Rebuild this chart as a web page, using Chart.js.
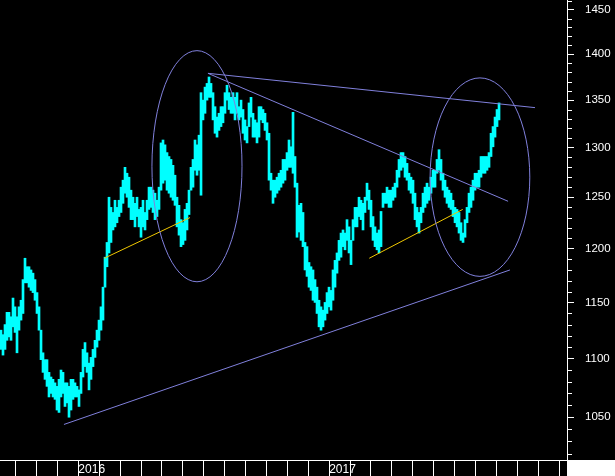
<!DOCTYPE html>
<html>
<head>
<meta charset="utf-8">
<script src="https://cdn.jsdelivr.net/npm/chart.js@4.4.0/dist/chart.umd.min.js"></script>
<style>
  html, body { margin: 0; padding: 0; background: #000; }
  #wrap { width: 615px; height: 476px; }
</style>
</head>
<body>
<div id="wrap"><canvas id="goldChart" width="615" height="476"></canvas></div>
<script>
// x axis unit = months since Jan 2016 (0 = Jan 2016, 12 = Jan 2017)
const monthTicks = [-3, -2, -1, 0, 1, 2, 3, 4, 5, 6, 7, 8, 9, 10, 11, 12, 13, 14, 15, 16, 17, 18, 19, 20, 21, 22, 23];
const yearTicks = [0, 12];
const yearLabels = ['2016', '2017'];
const priceTicks = [1050, 1100, 1150, 1200, 1250, 1300, 1350, 1400, 1450];

// bars: one every ~2 trading days, starting early Sep 2015
const firstBar = -3.702;
const barStep = 0.0957;

const highs = [
  1125, 1121, 1130, 1141, 1141, 1137, 1154, 1146, 1137, 1146,
  1152, 1171, 1191, 1183, 1183, 1180, 1177, 1171, 1159, 1146,
  1125, 1105, 1099, 1099, 1088, 1084, 1082, 1079, 1076, 1082,
  1090, 1088, 1079, 1079, 1076, 1082, 1082, 1079, 1076, 1073,
  1088, 1108, 1114, 1105, 1096, 1101, 1108, 1116, 1125, 1134,
  1146, 1164, 1192, 1206, 1250, 1240, 1235, 1247, 1240, 1247,
  1260, 1267, 1280, 1274, 1270, 1257, 1250, 1244, 1250, 1238,
  1240, 1247, 1235, 1247, 1260, 1260, 1257, 1254, 1247, 1260,
  1305, 1308, 1303, 1295, 1291, 1288, 1282, 1272, 1250, 1242,
  1228, 1225, 1238, 1244, 1257, 1280, 1288, 1308, 1303, 1313,
  1358, 1350, 1364, 1368, 1375, 1368, 1358, 1343, 1332, 1336,
  1343, 1343, 1358, 1366, 1358, 1353, 1358, 1353, 1358, 1343,
  1350, 1340, 1329, 1322, 1347, 1353, 1336, 1329, 1326, 1343,
  1343, 1340, 1336, 1326, 1315, 1274, 1267, 1267, 1270, 1274,
  1277, 1288, 1288, 1295, 1308, 1301, 1337, 1291, 1264, 1242,
  1244, 1235, 1206, 1202, 1187, 1183, 1180, 1171, 1164, 1152,
  1146, 1143, 1150, 1159, 1164, 1161, 1180, 1189, 1196, 1208,
  1215, 1218, 1215, 1228, 1221, 1208, 1228, 1240, 1240, 1250,
  1247, 1244, 1250, 1264, 1257, 1247, 1231, 1221, 1215, 1218,
  1236, 1254, 1254, 1260, 1257, 1257, 1260, 1264, 1277, 1288,
  1295, 1295, 1291, 1284, 1274, 1270, 1267, 1254, 1240, 1235,
  1240, 1254, 1260, 1264, 1260, 1270, 1277, 1277, 1288, 1298,
  1288, 1274, 1267, 1260, 1257, 1254, 1247, 1240, 1238, 1235,
  1225, 1215, 1228, 1240, 1254, 1260, 1267, 1274, 1274, 1277,
  1291, 1291, 1291, 1291, 1295, 1315, 1322, 1332, 1340, 1347
];

const lows = [
  1108, 1103, 1108, 1116, 1119, 1116, 1128, 1123, 1105, 1125,
  1134, 1140, 1168, 1168, 1164, 1161, 1159, 1152, 1140, 1125,
  1099, 1088, 1082, 1076, 1067, 1070, 1067, 1065, 1056, 1054,
  1067, 1070, 1059, 1062, 1050, 1056, 1065, 1067, 1067, 1059,
  1070, 1084, 1093, 1088, 1073, 1082, 1093, 1101, 1110, 1116,
  1125, 1134, 1164, 1183, 1196, 1206, 1218, 1221, 1225, 1231,
  1235, 1244, 1254, 1250, 1240, 1228, 1228, 1221, 1231, 1221,
  1211, 1221, 1218, 1228, 1238, 1240, 1235, 1228, 1231, 1238,
  1257, 1264, 1267, 1257, 1254, 1250, 1247, 1242, 1221, 1213,
  1202, 1204, 1208, 1218, 1233, 1257, 1260, 1277, 1272, 1277,
  1252, 1329, 1336, 1350, 1353, 1353, 1329, 1315, 1311, 1318,
  1322, 1326, 1336, 1350, 1340, 1336, 1336, 1329, 1336, 1329,
  1332, 1315, 1308, 1305, 1322, 1332, 1311, 1311, 1305, 1311,
  1329, 1326, 1318, 1308, 1267, 1257, 1244, 1250, 1254, 1257,
  1260, 1264, 1267, 1277, 1280, 1280, 1274, 1260, 1211, 1216,
  1208, 1202, 1180, 1174, 1164, 1161, 1152, 1150, 1140, 1128,
  1125, 1128, 1134, 1140, 1146, 1143, 1152, 1164, 1177, 1189,
  1192, 1202, 1199, 1208, 1196, 1185, 1208, 1221, 1221, 1231,
  1228, 1218, 1235, 1247, 1238, 1221, 1208, 1202, 1199, 1196,
  1202, 1240, 1244, 1244, 1240, 1240, 1247, 1250, 1260, 1270,
  1277, 1280, 1270, 1267, 1257, 1254, 1244, 1228, 1221, 1215,
  1225, 1235, 1240, 1244, 1247, 1254, 1260, 1260, 1274, 1277,
  1267, 1257, 1250, 1244, 1240, 1238, 1231, 1225, 1221, 1215,
  1208, 1206, 1211, 1225, 1235, 1240, 1247, 1257, 1260, 1260,
  1270, 1274, 1274, 1277, 1280, 1291, 1301, 1311, 1322, 1329
];

// hand drawn studies, in [month, price]
const LAVENDER = '#8080dc';
const YELLOW = '#f0c800';
const trendLines = [
  { from: [-0.69, 1044], to: [20.65, 1180], color: LAVENDER },
  { from: [6.2, 1379], to: [21.85, 1342], color: LAVENDER },
  { from: [6.2, 1379], to: [20.56, 1246], color: LAVENDER },
  { from: [1.24, 1191], to: [5.34, 1230], color: YELLOW },
  { from: [13.92, 1191], to: [18.39, 1238], color: YELLOW }
];
const ellipses = [
  { months: [3.52, 7.83], prices: [1169, 1404] },
  { months: [16.83, 21.6], prices: [1174, 1374] }
];

const bars = highs.map((h, i) => ({ x: firstBar + i * barStep, y: [lows[i], h] }));

const backdrop = {
  id: 'backdrop',
  beforeDraw(chart) {
    const { ctx, width, height } = chart;
    ctx.save();
    ctx.fillStyle = '#000';
    ctx.fillRect(0, 0, width, height);
    ctx.restore();
  },
  afterDraw(chart) {
    const { ctx, chartArea, width, height } = chart;
    const y = chart.scales.y;
    ctx.save();
    // minor price ticks
    ctx.strokeStyle = '#fff';
    ctx.lineWidth = 1;
    ctx.beginPath();
    for (let v = 1020; v <= 1460; v += 10) {
      if (v % 50 === 0) continue;
      const py = Math.round(y.getPixelForValue(v)) + 0.5;
      ctx.moveTo(chartArea.right, py);
      ctx.lineTo(chartArea.right + 5, py);
    }
    ctx.stroke();
    // blank corner under the price axis
    ctx.fillStyle = '#fff';
    ctx.fillRect(chartArea.right, chartArea.bottom, width - chartArea.right, height - chartArea.bottom);
    ctx.restore();
  }
};

const studies = {
  id: 'studies',
  afterDatasetsDraw(chart) {
    const { ctx, chartArea } = chart;
    const x = chart.scales.x;
    const y = chart.scales.y;
    ctx.save();
    ctx.beginPath();
    ctx.rect(chartArea.left, chartArea.top, chartArea.right - chartArea.left, chartArea.bottom - chartArea.top);
    ctx.clip();
    ctx.lineWidth = 1;

    trendLines.forEach((t) => {
      ctx.strokeStyle = t.color;
      ctx.beginPath();
      ctx.moveTo(x.getPixelForValue(t.from[0]), y.getPixelForValue(t.from[1]));
      ctx.lineTo(x.getPixelForValue(t.to[0]), y.getPixelForValue(t.to[1]));
      ctx.stroke();
    });

    ctx.strokeStyle = LAVENDER;
    ellipses.forEach((e) => {
      const x0 = x.getPixelForValue(e.months[0]);
      const x1 = x.getPixelForValue(e.months[1]);
      const y0 = y.getPixelForValue(e.prices[1]);
      const y1 = y.getPixelForValue(e.prices[0]);
      ctx.beginPath();
      ctx.ellipse((x0 + x1) / 2, (y0 + y1) / 2, (x1 - x0) / 2, (y1 - y0) / 2, 0, 0, Math.PI * 2);
      ctx.stroke();
    });
    ctx.restore();
  }
};

new Chart(document.getElementById('goldChart'), {
  type: 'bar',
  data: {
    datasets: [{
      data: bars,
      backgroundColor: '#00ffff',
      borderWidth: 0,
      barThickness: 2,
      grouped: false
    }]
  },
  options: {
    responsive: false,
    devicePixelRatio: 1,
    animation: false,
    events: [],
    layout: { padding: 0 },
    plugins: { legend: { display: false }, tooltip: { enabled: false } },
    scales: {
      x: {
        type: 'linear',
        position: 'bottom',
        min: -3.75,
        max: 23.38,
        bounds: 'data',
        offset: false,
        afterBuildTicks: (axis) => { axis.ticks = monthTicks.map((v) => ({ value: v })); },
        afterFit: (axis) => { axis.height = 16; axis.paddingLeft = 0; axis.paddingRight = 0; },
        grid: { offset: false, drawOnChartArea: false, tickLength: 16, tickColor: '#fff', tickWidth: 1 },
        border: { display: true, color: '#fff', width: 1 },
        ticks: {
          autoSkip: false,
          maxRotation: 0,
          align: 'start',
          padding: -14,
          color: '#fff',
          font: { family: '"Liberation Sans", Arial, sans-serif', size: 12 },
          callback: (v) => {
            const i = yearTicks.indexOf(v);
            return i >= 0 ? yearLabels[i] : '';
          }
        }
      },
      y: {
        type: 'logarithmic',
        position: 'right',
        min: 1015,
        max: 1461.5,
        bounds: 'data',
        afterBuildTicks: (axis) => { axis.ticks = priceTicks.map((v) => ({ value: v })); },
        afterFit: (axis) => { axis.width = 48; axis.paddingTop = 0; axis.paddingBottom = 0; },
        grid: { drawOnChartArea: false, tickLength: 7, tickColor: '#fff', tickWidth: 1 },
        border: { display: true, color: '#fff', width: 1 },
        ticks: {
          autoSkip: false,
          padding: 11,
          color: '#fff',
          font: { family: '"Liberation Sans", Arial, sans-serif', size: 11.5 },
          callback: (v) => String(v)
        }
      }
    }
  },
  plugins: [backdrop, studies]
});
</script>
</body>
</html>
